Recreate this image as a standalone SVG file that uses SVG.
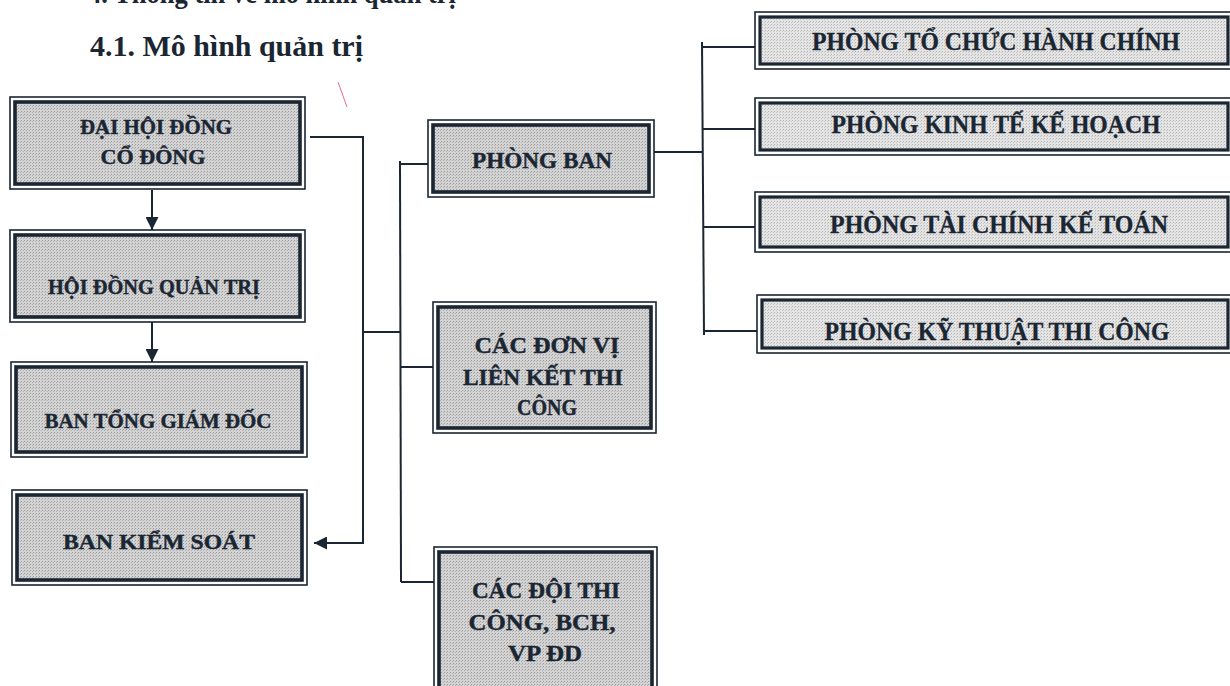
<svg xmlns="http://www.w3.org/2000/svg" width="1230" height="686" viewBox="0 0 1230 686">
<style>
.o{fill:#ffffff;stroke:#1b2633;stroke-width:1.6}
.i{fill:url(#dots);stroke:#1b2633;stroke-width:3.6}
.il{fill:url(#dotsL);stroke:#1b2633;stroke-width:3.2}
.t{font-family:"Liberation Serif","Times New Roman",serif;font-weight:bold;font-size:21px;fill:#1b2633;stroke:#1b2633;stroke-width:0.4;text-anchor:middle}
.tm{font-family:"Liberation Serif","Times New Roman",serif;font-weight:bold;font-size:23px;fill:#1b2633;stroke:#1b2633;stroke-width:0.4;text-anchor:middle}
.tr{font-family:"Liberation Serif","Times New Roman",serif;font-weight:bold;font-size:25px;fill:#1b2633;stroke:#1b2633;stroke-width:0.3;text-anchor:middle}
.h{font-family:"Liberation Serif","Times New Roman",serif;font-weight:bold;font-size:29px;fill:#1b2633}
.c{fill:none;stroke:#1b2633;stroke-width:2}
</style>
<defs>
<pattern id="dots" width="3" height="3" patternUnits="userSpaceOnUse">
<rect width="3" height="3" fill="#d3d3d3"/>
<rect width="1" height="1" fill="#9c9c9c"/>
<rect x="2" y="1" width="1" height="1" fill="#b0b0b0"/>
</pattern>
<pattern id="dotsL" width="3" height="3" patternUnits="userSpaceOnUse">
<rect width="3" height="3" fill="#e4e4e4"/>
<rect width="1" height="1" fill="#b4b4b4"/>
<rect x="2" y="1" width="1" height="1" fill="#c6c6c6"/>
</pattern>
<marker id="arr" viewBox="0 0 10 10" refX="10" refY="5" markerWidth="13" markerHeight="13" markerUnits="userSpaceOnUse" orient="auto">
<path d="M0,0 L10,5 L0,10 z" fill="#1b2633"/>
</marker>
</defs>
<rect width="1230" height="686" fill="#ffffff"/>
<text class="h" x="88" y="3" textLength="368" lengthAdjust="spacingAndGlyphs">4. Thông tin về mô hình quản trị</text>
<text class="h" x="90" y="56" textLength="273" lengthAdjust="spacingAndGlyphs">4.1. Mô hình quản trị</text>
<line x1="338" y1="82" x2="347" y2="107" stroke="#e0708a" stroke-width="1"/>

<g id="connectors">
<line class="c" x1="152" y1="190" x2="152" y2="230" marker-end="url(#arr)"/>
<line class="c" x1="152" y1="322" x2="152" y2="362" marker-end="url(#arr)"/>
<polyline class="c" points="310,137 363,137 363,543 314,543" marker-end="url(#arr)"/>
<line class="c" x1="363" y1="332" x2="400" y2="332"/>
<line class="c" x1="400" y1="161" x2="401" y2="582"/>
<line class="c" x1="400" y1="164" x2="428" y2="164"/>
<line class="c" x1="400" y1="367" x2="433" y2="367"/>
<line class="c" x1="401" y1="582" x2="434" y2="582"/>
<line class="c" x1="654" y1="152" x2="703" y2="152"/>
<line class="c" x1="702" y1="42" x2="704" y2="335"/>
<line class="c" x1="702" y1="47" x2="755" y2="47"/>
<line class="c" x1="703" y1="129" x2="755" y2="129"/>
<line class="c" x1="703" y1="227" x2="755" y2="227"/>
<line class="c" x1="704" y1="331" x2="757" y2="331"/>
</g>

<g id="n-dhdcd">
<rect class="o" x="10" y="97" width="295" height="92"/>
<rect class="i" x="15" y="102" width="285" height="82"/>
<text class="t" x="156" y="134" textLength="152" lengthAdjust="spacingAndGlyphs">ĐẠI HỘI ĐỒNG</text>
<text class="t" x="153" y="164" textLength="105" lengthAdjust="spacingAndGlyphs">CỔ ĐÔNG</text>
</g>
<g id="n-hdqt">
<rect class="o" x="10" y="230" width="295" height="92"/>
<rect class="i" x="15" y="235" width="285" height="82"/>
<text class="t" x="154" y="294" textLength="212" lengthAdjust="spacingAndGlyphs">HỘI ĐỒNG QUẢN TRỊ</text>
</g>
<g id="n-btgd">
<rect class="o" x="11" y="362" width="296" height="95"/>
<rect class="i" x="16" y="367" width="286" height="85"/>
<text class="t" x="158" y="428" textLength="227" lengthAdjust="spacingAndGlyphs">BAN TỔNG GIÁM ĐỐC</text>
</g>
<g id="n-bks">
<rect class="o" x="12" y="490" width="295" height="95"/>
<rect class="i" x="17" y="495" width="285" height="85"/>
<text class="t" x="159" y="549" textLength="192" lengthAdjust="spacingAndGlyphs">BAN KIỂM SOÁT</text>
</g>

<g id="n-phongban">
<rect class="o" x="428" y="120" width="226" height="77"/>
<rect class="i" x="433" y="125" width="216" height="67"/>
<text class="tm" x="542" y="168" textLength="140" lengthAdjust="spacingAndGlyphs">PHÒNG BAN</text>
</g>
<g id="n-lienket">
<rect class="o" x="433" y="302" width="223" height="131"/>
<rect class="i" x="438" y="307" width="213" height="121"/>
<text class="tm" x="547" y="353" textLength="145" lengthAdjust="spacingAndGlyphs">CÁC ĐƠN VỊ</text>
<text class="tm" x="543" y="385" textLength="160" lengthAdjust="spacingAndGlyphs">LIÊN KẾT THI</text>
<text class="tm" x="547" y="415" textLength="60" lengthAdjust="spacingAndGlyphs">CÔNG</text>
</g>
<g id="n-doi">
<rect class="o" x="434" y="547" width="223" height="150"/>
<rect class="i" x="439" y="552" width="213" height="140"/>
<text class="tm" x="546" y="598" textLength="148" lengthAdjust="spacingAndGlyphs">CÁC ĐỘI THI</text>
<text class="tm" x="542" y="630" textLength="147" lengthAdjust="spacingAndGlyphs">CÔNG, BCH,</text>
<text class="tm" x="545" y="661" textLength="74" lengthAdjust="spacingAndGlyphs">VP ĐD</text>
</g>

<g id="n-tchc">
<rect class="o" x="755" y="12" width="480" height="57"/>
<rect class="il" x="760" y="17" width="468" height="47"/>
<text class="tr" x="996" y="50" textLength="368" lengthAdjust="spacingAndGlyphs">PHÒNG TỔ CHỨC HÀNH CHÍNH</text>
</g>
<g id="n-ktkh">
<rect class="o" x="755" y="98" width="480" height="57"/>
<rect class="il" x="760" y="103" width="468" height="47"/>
<text class="tr" x="996" y="133" textLength="329" lengthAdjust="spacingAndGlyphs">PHÒNG KINH TẾ KẾ HOẠCH</text>
</g>
<g id="n-tckt">
<rect class="o" x="755" y="192" width="480" height="60"/>
<rect class="il" x="760" y="197" width="468" height="50"/>
<text class="tr" x="999" y="233" textLength="338" lengthAdjust="spacingAndGlyphs">PHÒNG TÀI CHÍNH KẾ TOÁN</text>
</g>
<g id="n-ktt">
<rect class="o" x="757" y="295" width="480" height="58"/>
<rect class="il" x="762" y="300" width="466" height="48"/>
<text class="tr" x="997" y="340" textLength="345" lengthAdjust="spacingAndGlyphs">PHÒNG KỸ THUẬT THI CÔNG</text>
</g>
</svg>
